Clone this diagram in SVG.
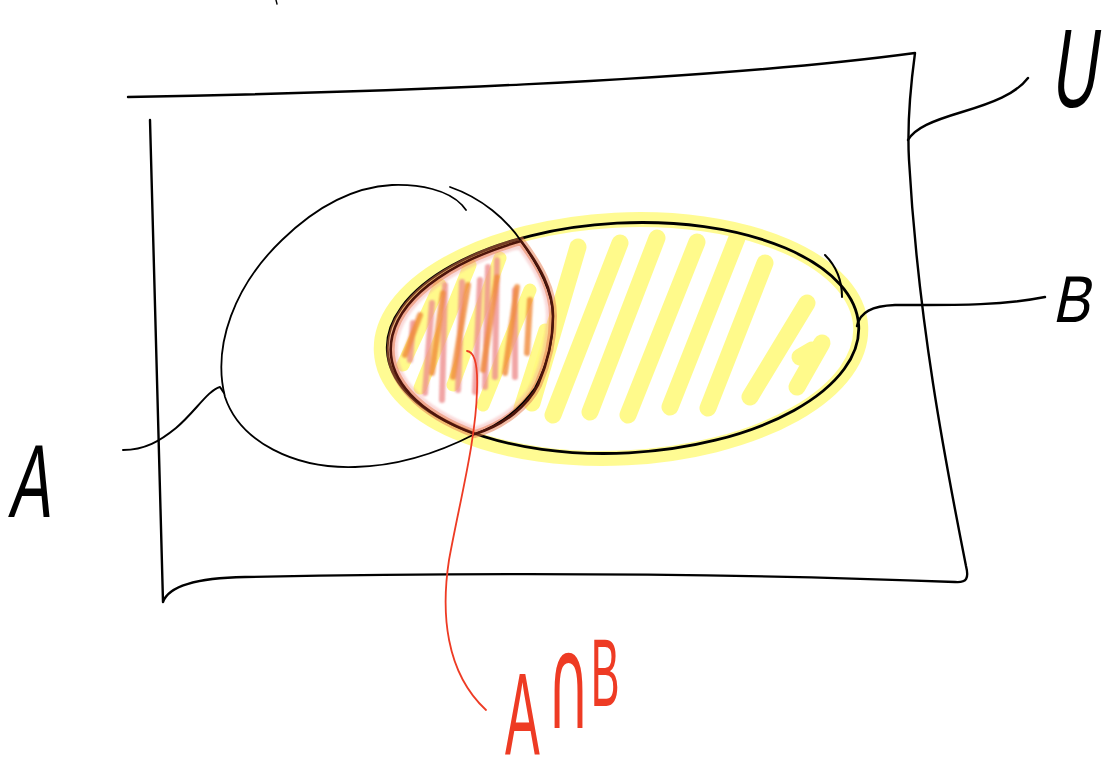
<svg xmlns="http://www.w3.org/2000/svg" width="1110" height="762" viewBox="0 0 1110 762">
<style>
.ink{fill:none;stroke:#000;stroke-linecap:round;stroke-linejoin:round}
.frame{stroke-width:2.4}
.setA{stroke-width:1.8}
.setB{stroke-width:2.8}
.glow{fill:none;stroke:#fffa80;stroke-width:15;opacity:.85}
.hatch{fill:none;stroke:#fffa85;stroke-width:17;stroke-linecap:round;opacity:.95}
.hatchS{fill:none;stroke:#fff97e;stroke-width:13;stroke-linecap:round;opacity:.9}
.pink{fill:none;stroke:#ee8f8f;stroke-width:6;stroke-linecap:round;opacity:.8}
.orange{fill:none;stroke:#f08a3a;stroke-width:6;stroke-linecap:round;opacity:.8}
.lbl{font-family:"Liberation Sans",Arial,sans-serif;fill:#000}
.redlbl{font-family:"Liberation Sans",Arial,sans-serif;fill:#ee3b24}
.red{fill:none;stroke:#ee3b24;stroke-width:1.8;stroke-linecap:round}
</style>
<defs>
<clipPath id="lensClip">
<path d="M521,241 A236,115 -3 0 0 475,434 C505,425 528,405 538,385 C548,362 553,340 553,316 C553,290 540,266 521,241 Z"/>
</clipPath>
<filter id="soft" x="-20%" y="-20%" width="140%" height="140%"><feGaussianBlur stdDeviation="1.1"/></filter>
</defs>
<rect width="1110" height="762" fill="#fff"/>

<g id="universe">
<path class="ink frame" d="M128,97 C350,93 700,82 915,53 C910,90 907,125 909,160 C918,320 945,460 966,566 C969,578 967,583 955,582 C700,572 450,573 245,577 C190,578 168,588 163,602 C160,480 154,300 150,120"/>
<path class="ink" stroke-width="1.4" d="M276,0 L277,4"/>
<text class="lbl" font-size="112" transform="translate(1050,107) skewX(-8) scale(0.56,1)">U</text>
</g>

<g id="set-b">
<ellipse class="glow" cx="621" cy="339" rx="240" ry="119" transform="rotate(-3 621 339)"/>
<g id="b-hatch">
<path class="hatch" d="M532,403 L578,247"/>
<path class="hatch" d="M553,415 L620,243"/>
<path class="hatch" d="M590,412 L657,238"/>
<path class="hatch" d="M628,415 L697,242"/>
<path class="hatch" d="M670,407 L737,238"/>
<path class="hatch" d="M708,408 L765,263"/>
<path class="hatch" d="M750,397 L807,303"/>
<path class="hatch" d="M797,387 L822,343 M800,357 L812,350"/>
</g>
<ellipse class="ink setB" cx="623" cy="338" rx="236" ry="115" transform="rotate(-3 623 338)"/>
<path class="ink" stroke-width="2" d="M825,255 C835,265 842,280 842,297"/>
<text class="lbl" font-size="66" transform="translate(1052,322) skewX(-12) scale(0.85,1)">B</text>
</g>

<g id="intersection">
<g clip-path="url(#lensClip)">
<path class="hatchS" d="M403,365 L440,285 M420,388 L470,265 M453,385 L500,258 M483,405 L530,290 M520,408 L545,330"/>
<path d="M521,241 A236,115 -3 0 0 475,434 C505,425 528,405 538,385 C548,362 553,340 553,316 C553,290 540,266 521,241 Z" fill="none" stroke="#f2a0a0" stroke-width="14" opacity=".4" filter="url(#soft)"/>
<g filter="url(#soft)">
<path class="pink" d="M410,360 L413,323 M425,393 L432,303 M442,400 L445,285 M458,390 L462,282 M475,392 L480,280 M485,387 L488,267 M495,377 L497,260 M515,377 L515,290"/>
<path class="orange" d="M405,355 L420,315 M432,373 L443,293 M453,377 L468,285 M483,370 L497,277 M505,373 L517,287"/>
<path class="orange" stroke="#e8602a" d="M527,353 L530,300"/>
</g>
</g>
<path d="M521,241 A236,115 -3 0 0 475,434 C505,425 528,405 538,385 C548,362 553,340 553,316 C553,290 540,266 521,241 Z" fill="none" stroke="#e5784a" stroke-width="8" opacity=".5"/>
</g>

<g id="set-a">
<path class="ink setA" d="M450,187 C482,198 507,220 521,241 C540,268 553,293 553,318 C553,346 545,369 535,388 C518,412 497,426 475,434 C440,452 400,466 355,467 C295,469 240,442 225,397 C212,345 235,285 282,240 C318,205 355,187 392,185 C420,184 448,190 462,205 L466,210"/>
<text class="lbl" font-size="104" transform="translate(8,517) skewX(-8) scale(0.6,1)">A</text>
</g>

<g id="lens-outline">
<path d="M521,241 A236,115 -3 0 0 475,434 C505,425 528,405 538,385 C548,362 553,340 553,316 C553,290 540,266 521,241 Z" fill="none" stroke="#4e150b" stroke-width="2.6" stroke-linejoin="round"/>
</g>

<g id="connectors">
<path class="ink" stroke-width="2" d="M123,450 C145,450 160,441 176,428 C195,412 208,390 220,387 L224,393"/>
<path class="ink" stroke-width="2.4" d="M908,140 C915,128 932,121 962,112 C992,103 1016,94 1028,78"/>
<path class="ink" stroke-width="2.4" d="M857,326 C860,312 872,306 895,305 C950,305 1000,306 1045,297"/>
<path class="red" d="M467,351 C475,352 478,365 477,390 C476,440 460,500 449,560 C441,612 445,672 486,710"/>
</g>

<g id="label-intersection">
<text class="redlbl" font-size="116" transform="translate(505,755) scale(0.45,1)">A<tspan font-family="DejaVu Sans,sans-serif" font-size="130" dx="16" dy="-27">∩</tspan><tspan font-size="96" dx="2" dy="-22">B</tspan></text>
</g>
</svg>
